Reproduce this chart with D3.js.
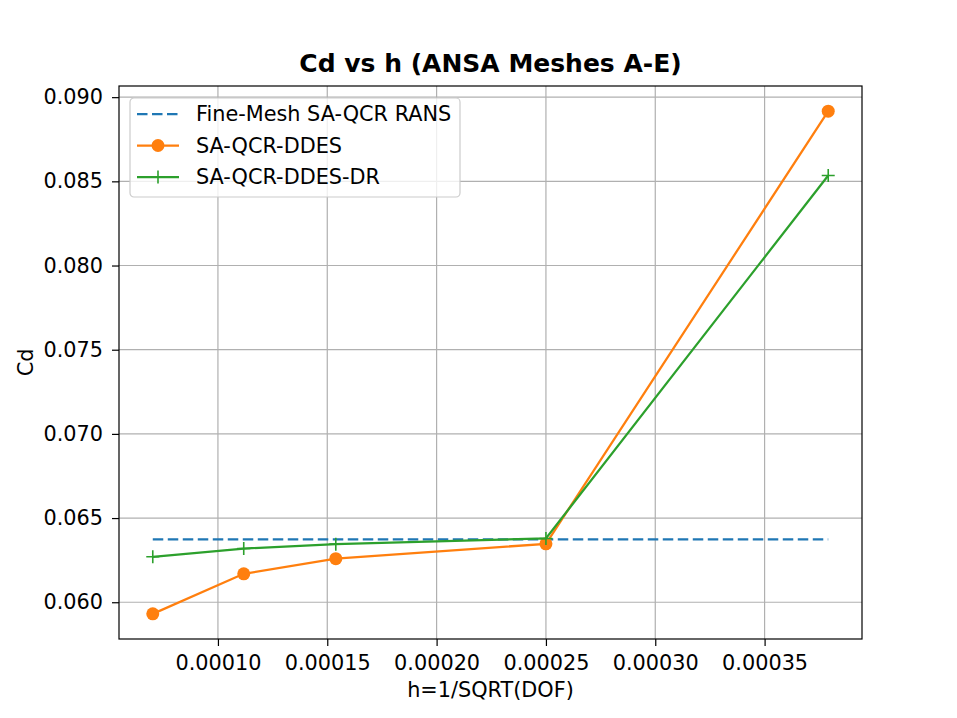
<!DOCTYPE html>
<html>
<head>
<meta charset="utf-8">
<script src="https://cdn.jsdelivr.net/npm/d3@7"></script>
<style>
  body { margin: 0; background: #fff; }
  svg text { font-family: "DejaVu Sans", sans-serif; fill: #000; }
</style>
</head>
<body>
<div id="chart"></div>
<script>
// mesh sizes h = 1/sqrt(DOF), meshes A-E
const hValues   = [0.0000702, 0.0001118, 0.0001539, 0.00025, 0.0003791];
const cdDdes    = [0.05931, 0.06169, 0.06259, 0.06347, 0.08917];
const cdDdesDr  = [0.06270, 0.06319, 0.06345, 0.06379, 0.08535];
const cdRans    = 0.06373;
const xTicks    = [0.00010, 0.00015, 0.00020, 0.00025, 0.00030, 0.00035];
const yTicks    = [0.060, 0.065, 0.070, 0.075, 0.080, 0.085, 0.090];
const seriesNames = ['Fine-Mesh SA-QCR RANS', 'SA-QCR-DDES', 'SA-QCR-DDES-DR'];

const W = 957, H = 718;
const m = { left: 119, right: 95, top: 86, bottom: 79 };
const iw = W - m.left - m.right, ih = H - m.top - m.bottom;
const fs = '20.8px';

const svg = d3.select('#chart').append('svg')
  .attr('width', W).attr('height', H);

// matplotlib style 5% padding on the data range
const xPad = (d3.max(hValues) - d3.min(hValues)) * 0.05;
const allY = cdDdes.concat(cdDdesDr);
const yPad = (d3.max(allY) - d3.min(allY)) * 0.05;

const x = d3.scaleLinear()
  .domain([d3.min(hValues) - xPad, d3.max(hValues) + xPad])
  .range([0, iw]);
const y = d3.scaleLinear()
  .domain([d3.min(allY) - yPad, d3.max(allY) + yPad])
  .range([ih, 0]);

const g = svg.append('g').attr('transform', `translate(${m.left},${m.top})`);

// grid
g.append('g').selectAll('line').data(xTicks).join('line')
  .attr('x1', d => x(d)).attr('x2', d => x(d))
  .attr('y1', 0).attr('y2', ih)
  .attr('stroke', '#b0b0b0').attr('stroke-width', 1.2);
g.append('g').selectAll('line').data(yTicks).join('line')
  .attr('y1', d => y(d)).attr('y2', d => y(d))
  .attr('x1', 0).attr('x2', iw)
  .attr('stroke', '#b0b0b0').attr('stroke-width', 1.2);

// axes
const xAxis = g.append('g').attr('transform', `translate(0,${ih})`)
  .call(d3.axisBottom(x).tickValues(xTicks).tickFormat(d3.format('.5f')).tickSizeOuter(0).tickSize(7).tickPadding(9));
const yAxis = g.append('g')
  .call(d3.axisLeft(y).tickValues(yTicks).tickFormat(d3.format('.3f')).tickSizeOuter(0).tickSize(7).tickPadding(9));
[xAxis, yAxis].forEach(a => {
  a.select('.domain').remove();
  a.selectAll('.tick line').attr('stroke', '#000').attr('stroke-width', 1.2);
  a.selectAll('.tick text').style('font-size', fs).attr('fill', '#000');
});

// lines
const line = d3.line().x(d => x(d[0])).y(d => y(d[1]));

g.append('path')
  .datum([[hValues[0], cdRans], [hValues[hValues.length - 1], cdRans]])
  .attr('d', line).attr('fill', 'none')
  .attr('stroke', '#1f77b4').attr('stroke-width', 2.25)
  .attr('stroke-dasharray', '10.5,4.5');

const ddes = hValues.map((h, i) => [h, cdDdes[i]]);
const ddesDr = hValues.map((h, i) => [h, cdDdesDr[i]]);

g.append('path').datum(ddes).attr('d', line).attr('fill', 'none')
  .attr('stroke', '#ff7f0e').attr('stroke-width', 2.25);
g.append('g').selectAll('circle').data(ddes).join('circle')
  .attr('cx', d => x(d[0])).attr('cy', d => y(d[1])).attr('r', 6.5)
  .attr('fill', '#ff7f0e');

g.append('path').datum(ddesDr).attr('d', line).attr('fill', 'none')
  .attr('stroke', '#2ca02c').attr('stroke-width', 2.25);
g.append('g').selectAll('path').data(ddesDr).join('path')
  .attr('transform', d => `translate(${x(d[0])},${y(d[1])})`)
  .attr('d', 'M-6.5,0H6.5M0,-6.5V6.5')
  .attr('stroke', '#2ca02c').attr('stroke-width', 1.6);

// frame
g.append('rect').attr('width', iw).attr('height', ih)
  .attr('fill', 'none').attr('stroke', '#000').attr('stroke-width', 1.2);

// legend
const leg = g.append('g').attr('transform', 'translate(11,12)');
leg.append('rect').attr('width', 330).attr('height', 99)
  .attr('rx', 4).attr('fill', 'rgba(255,255,255,0.8)')
  .attr('stroke', '#cccccc').attr('stroke-width', 1.2);
const rows = [
  { color: '#1f77b4', dash: '10.5,4.5', marker: null },
  { color: '#ff7f0e', dash: null, marker: 'circle' },
  { color: '#2ca02c', dash: null, marker: 'plus' }
];
rows.forEach((r, i) => {
  const ry = 16 + i * 31.5;
  const rg = leg.append('g').attr('transform', `translate(0,${ry})`);
  rg.append('line').attr('x1', 7).attr('x2', 49)
    .attr('stroke', r.color).attr('stroke-width', 2.25)
    .attr('stroke-dasharray', r.dash);
  if (r.marker === 'circle') {
    rg.append('circle').attr('cx', 28).attr('r', 6.5).attr('fill', r.color);
  } else if (r.marker === 'plus') {
    rg.append('path').attr('d', 'M21.5,0H34.5M28,-6.5V6.5')
      .attr('stroke', r.color).attr('stroke-width', 1.6);
  }
  rg.append('text').attr('x', 66).attr('dy', '0.35em')
    .style('font-size', fs).text(seriesNames[i]);
});

// labels
svg.append('text').attr('x', m.left + iw / 2).attr('y', 72)
  .attr('text-anchor', 'middle').style('font-size', '25px').style('font-weight', 'bold')
  .text('Cd vs h (ANSA Meshes A-E)');
svg.append('text').attr('x', m.left + iw / 2).attr('y', 697)
  .attr('text-anchor', 'middle').style('font-size', fs)
  .text('h=1/SQRT(DOF)');
svg.append('text')
  .attr('transform', `translate(33,${m.top + ih / 2}) rotate(-90)`)
  .attr('text-anchor', 'middle').style('font-size', fs)
  .text('Cd');
</script>
</body>
</html>
